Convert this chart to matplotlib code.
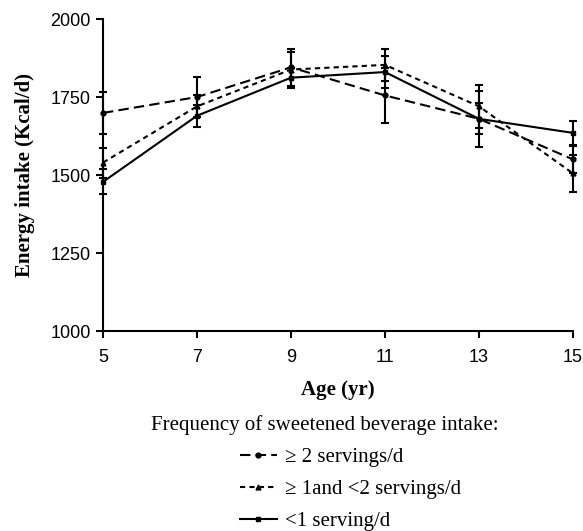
import matplotlib.pyplot as plt
from matplotlib.lines import Line2D

# Data
ages = [5, 7, 9, 11, 13, 15]

high_mean = [1699, 1750, 1845, 1755, 1680, 1550]
high_err = [67, 65, 60, 88, 50, 42]

mid_mean = [1540, 1720, 1838, 1853, 1720, 1505]
mid_err = [48, 35, 55, 52, 70, 60]

low_mean = [1478, 1690, 1812, 1830, 1680, 1635]
low_err = [40, 35, 32, 50, 90, 38]

labels = ["\u2265 2 servings/d", "\u2265 1and <2 servings/d", "<1 serving/d"]
legend_title = "Frequency of sweetened beverage intake:"

serif = ["Liberation Serif", "DejaVu Serif"]
sans = ["Liberation Sans", "DejaVu Sans"]

fig = plt.figure(figsize=(5.83, 5.31), dpi=100)
ax = fig.add_axes([0.1767, 0.3766, 0.8062, 0.5876])

styles = [
    dict(marker="o", dashes=(5, 2.5)),
    dict(marker="^", dashes=(2.5, 2)),
    dict(marker="s", linestyle="-"),
]
series = [(high_mean, high_err), (mid_mean, mid_err), (low_mean, low_err)]

handles = []
for (mean, err), st, lab in zip(series, styles, labels):
    ax.errorbar(ages, mean, yerr=err, color="black", linewidth=1.5, markersize=3.5,
                capsize=3, elinewidth=1.5, capthick=1.5, clip_on=False, **st)
    handles.append(Line2D([], [], color="black", linewidth=1.5, markersize=3.5, **st))

ax.set_xlim(5, 15)
ax.set_ylim(1000, 2000)
ax.set_xticks(ages)
ax.set_yticks([1000, 1250, 1500, 1750, 2000])

for side in ["top", "right"]:
    ax.spines[side].set_visible(False)
for side in ["left", "bottom"]:
    ax.spines[side].set_linewidth(1.5)
ax.tick_params(width=1.5, length=5, labelsize=13, pad=4)
ax.tick_params(axis="x", pad=8)
for lab in ax.get_xticklabels() + ax.get_yticklabels():
    lab.set_family(sans)

ax.set_xlabel("Age (yr)", family=serif, fontweight="bold", fontsize=15, labelpad=10)
ax.set_ylabel("Energy intake (Kcal/d)", family=serif, fontweight="bold", fontsize=15, labelpad=11)

fig.text(325 / 583, 1 - 425 / 531, legend_title, family=serif, fontsize=15, ha="center", va="center")
fig.legend(handles=handles, labels=labels, loc="upper left",
           bbox_to_anchor=(225 / 583, 1 - 433 / 531), frameon=False,
           prop={"family": serif, "size": 15}, handlelength=1.8,
           labelspacing=0.6, handletextpad=0.4, borderpad=0.2)

fig.savefig("out.png", dpi=100)
